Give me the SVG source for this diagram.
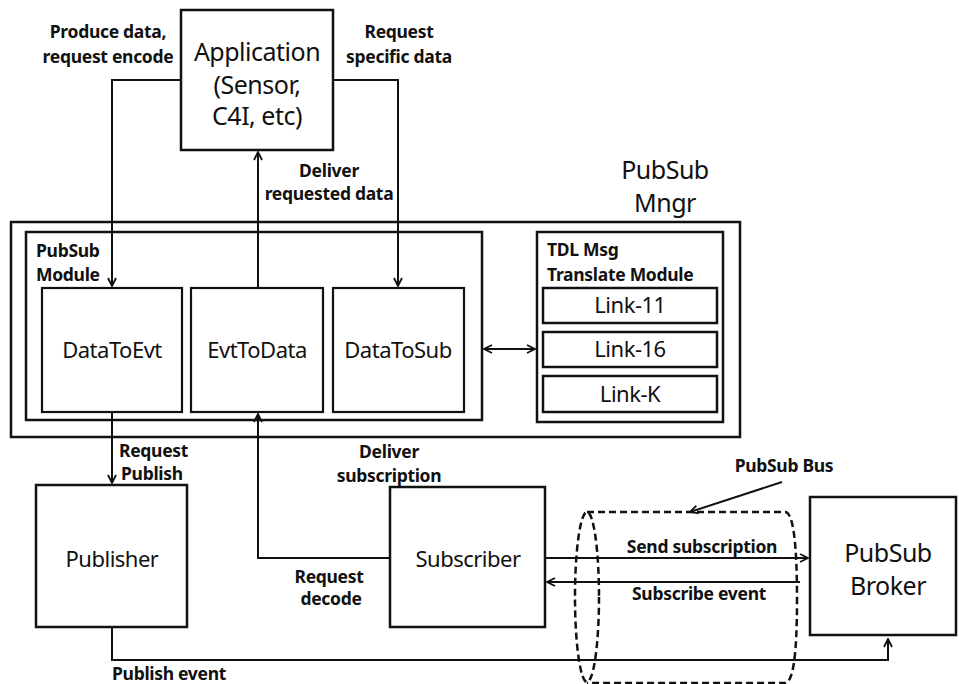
<svg xmlns="http://www.w3.org/2000/svg" width="959" height="684" viewBox="0 0 959 684">
<defs>
<marker id="ah" viewBox="0 0 10 10" refX="9" refY="5" markerWidth="10" markerHeight="10" markerUnits="userSpaceOnUse" orient="auto-start-reverse">
<path d="M1,1 L9,5 L1,9" fill="none" stroke="#111" stroke-width="1.8"/>
</marker>
</defs>
<style>
.box{fill:#fff;stroke:#111;stroke-width:2.5}
.thin{fill:none;stroke:#111;stroke-width:2.2}
.ln{fill:none;stroke:#111;stroke-width:2}
.dash{fill:none;stroke:#111;stroke-width:2.5;stroke-dasharray:7,4}
text{font-family:"Noto Sans","Open Sans","Liberation Sans",sans-serif;fill:#111}
.lb{font-size:17.5px;font-weight:bold;letter-spacing:-0.3px}
.nd{font-size:22px;letter-spacing:-0.5px}
.big{font-size:25px;letter-spacing:-0.5px}
</style>
<rect width="959" height="684" fill="#fff"/>

<g id="pubsub-mngr">
<rect class="box" x="11" y="222" width="729" height="215"/>
<text class="big" x="665" y="179" text-anchor="middle">PubSub</text>
<text class="big" x="665" y="212" text-anchor="middle">Mngr</text>
</g>
<g id="pubsub-module">
<rect class="box" x="26" y="232" width="456" height="188"/>
<text class="lb" x="36" y="257">PubSub</text>
<text class="lb" x="36" y="281">Module</text>
</g>
<g id="application">
<rect class="box" x="181" y="10" width="152" height="140"/>
<text class="big" x="257" y="61" text-anchor="middle">Application</text>
<text class="big" x="257" y="94" text-anchor="middle">(Sensor,</text>
<text class="big" x="257" y="125" text-anchor="middle">C4I, etc)</text>
</g>
<g id="datatoevt">
<rect class="thin" x="42" y="288" width="140" height="124"/>
<text class="nd" x="112" y="358" text-anchor="middle">DataToEvt</text>
</g>
<g id="evttodata">
<rect class="thin" x="191" y="288" width="132" height="124"/>
<text class="nd" x="257" y="358" text-anchor="middle">EvtToData</text>
</g>
<g id="datatosub">
<rect class="thin" x="333" y="288" width="131" height="124"/>
<text class="nd" x="398" y="358" text-anchor="middle">DataToSub</text>
</g>
<g id="tdl-module">
<rect class="box" x="537" y="232" width="186" height="190"/>
<text class="lb" x="547" y="256">TDL Msg</text>
<text class="lb" x="547" y="281">Translate Module</text>
</g>
<g id="link11">
<rect class="box" x="543" y="288" width="174" height="35"/>
<text class="nd" x="630" y="313" text-anchor="middle">Link-11</text>
</g>
<g id="link16">
<rect class="box" x="543" y="332" width="174" height="35"/>
<text class="nd" x="630" y="357" text-anchor="middle">Link-16</text>
</g>
<g id="linkk">
<rect class="box" x="543" y="376" width="174" height="36"/>
<text class="nd" x="630" y="402" text-anchor="middle">Link-K</text>
</g>
<g id="publisher">
<rect class="box" x="36" y="485" width="151" height="142"/>
<text class="nd" x="112" y="567" text-anchor="middle">Publisher</text>
</g>
<g id="subscriber">
<rect class="box" x="390" y="487" width="155" height="140"/>
<text class="nd" x="468" y="567" text-anchor="middle">Subscriber</text>
</g>
<g id="broker">
<rect class="box" x="810" y="497" width="146" height="138"/>
<text class="big" x="888" y="562" text-anchor="middle">PubSub</text>
<text class="big" x="888" y="595" text-anchor="middle">Broker</text>
</g>
<g id="pubsub-bus">
<ellipse class="dash" cx="587" cy="597" rx="12" ry="85"/>
<path class="dash" d="M587,512 L785,512 Q797,512 797,600 Q797,683 785,683 L587,683"/>
<text class="lb" x="784" y="472" text-anchor="middle">PubSub Bus</text>
</g>

<g id="connectors">
<path class="ln" d="M181,80 H112 V286" marker-end="url(#ah)"/>
<path class="ln" d="M333,80 H398 V286" marker-end="url(#ah)"/>
<path class="ln" d="M258,288 V152" marker-end="url(#ah)"/>
<path class="ln" d="M484,349 H535" marker-start="url(#ah)" marker-end="url(#ah)"/>
<path class="ln" d="M112,412 V483" marker-end="url(#ah)"/>
<path class="ln" d="M390,558 H258 V414" marker-end="url(#ah)"/>
<path class="ln" d="M112,627 V660 H888 V639" marker-end="url(#ah)"/>
<path class="ln" d="M545,558 H808" marker-end="url(#ah)"/>
<path class="ln" d="M800,582 H547" marker-end="url(#ah)"/>
<path class="ln" d="M782,482 L690,512" marker-end="url(#ah)"/>
<text class="lb" x="108" y="38" text-anchor="middle">Produce data,</text>
<text class="lb" x="108" y="63" text-anchor="middle">request encode</text>
<text class="lb" x="399" y="38" text-anchor="middle">Request</text>
<text class="lb" x="399" y="63" text-anchor="middle">specific data</text>
<text class="lb" x="329" y="177" text-anchor="middle">Deliver</text>
<text class="lb" x="329" y="200" text-anchor="middle">requested data</text>
<text class="lb" x="119" y="457">Request</text>
<text class="lb" x="121" y="480">Publish</text>
<text class="lb" x="389" y="458" text-anchor="middle">Deliver</text>
<text class="lb" x="389" y="482" text-anchor="middle">subscription</text>
<text class="lb" x="329" y="583" text-anchor="middle">Request</text>
<text class="lb" x="331" y="605" text-anchor="middle">decode</text>
<text class="lb" x="112" y="680">Publish event</text>
<text class="lb" x="702" y="553" text-anchor="middle">Send subscription</text>
<text class="lb" x="699" y="600" text-anchor="middle">Subscribe event</text>
</g>
</svg>
